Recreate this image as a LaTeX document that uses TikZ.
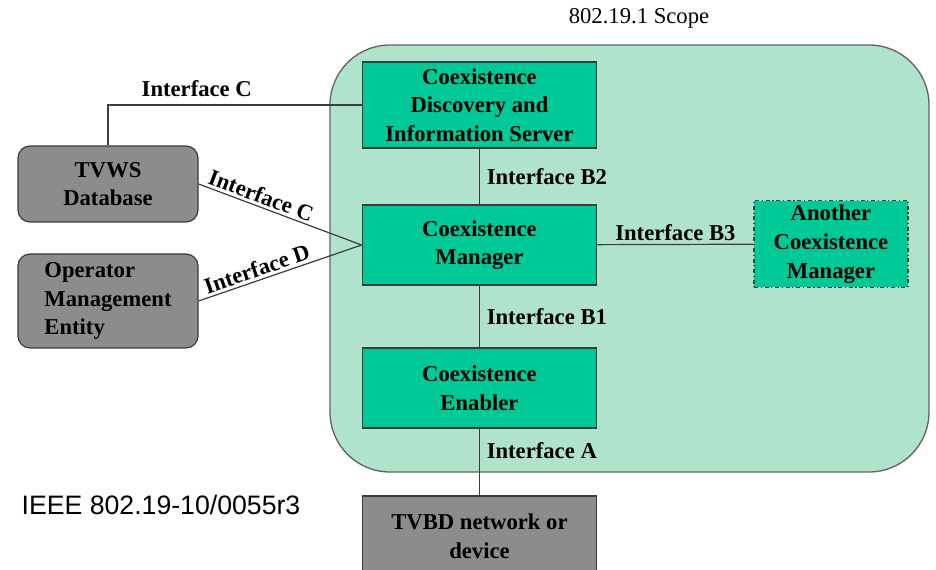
\documentclass[tikz,border=0pt]{standalone}
\usepackage{fontspec}
\setmainfont{Liberation Serif}
\newfontfamily\arialfont{Liberation Sans}
\usetikzlibrary{positioning}

\definecolor{scopegreen}{RGB}{176,227,203}
\definecolor{boxgreen}{RGB}{0,200,150}
\definecolor{boxgray}{RGB}{140,140,140}
\definecolor{edgegray}{RGB}{60,60,60}

\begin{document}
\begin{tikzpicture}[x=0.75pt, y=-0.75pt]
  \tikzstyle{entity}=[draw=edgegray, line width=0.9pt, fill=boxgreen, align=center, text=black,
    minimum width=176pt, font=\bfseries\fontsize{17}{21.5}\selectfont]
  \tikzstyle{outside}=[draw=edgegray, line width=0.9pt, fill=boxgray, rounded corners=9pt, text=black,
    minimum width=135pt, font=\bfseries\fontsize{17}{21.5}\selectfont]
  \tikzstyle{iface}=[font=\bfseries\fontsize{17}{21.5}\selectfont, text=black, inner sep=2pt]
  \useasboundingbox (0,0) rectangle (936,570);

  % 802.19.1 scope
  \draw[draw=edgegray!80, line width=1pt, fill=scopegreen, rounded corners=45pt]
    (330,45) rectangle (929,472);
  \node[font=\fontsize{17}{20}\selectfont] (L_scope) at (639,18) {802.19.1 Scope};

  \node[entity, minimum height=64.5pt] (CDIS) at (479.5,105)
    {Coexistence\\Discovery and\\Information Server};
  \node[entity, minimum height=60pt] (CM) at (479.5,245) {Coexistence\\Manager};
  \node[entity, minimum height=60pt] (CE) at (479.5,388) {Coexistence\\Enabler};
  \node[entity, dash dot, minimum width=115.5pt, minimum height=63pt] (ACM) at (831,244)
    {Another\\Coexistence\\Manager};
  \node[outside, align=center, rounded corners=0pt, minimum width=176pt, minimum height=60pt] (TVBD) at (479.5,536)
    {TVBD network or\\device};
  \node[outside, align=center, minimum height=57pt] (TVWS) at (108,184) {TVWS\\Database};
  \node[outside, align=left, minimum height=70.5pt] (OME) at (108,301)
    {Operator\\Management\\Entity};

  \draw[edgegray, line width=0.9pt] (TVWS.north) |- (CDIS.west)
    node[iface, pos=0.675, above=4pt] {Interface C};
  \draw[edgegray, line width=0.9pt] (TVWS.east) -- (CM.west)
    node[iface, pos=0.36, above, sloped] {Interface C};
  \draw[edgegray, line width=0.9pt] (OME.east) -- (CM.west)
    node[iface, pos=0.38, above, sloped] {Interface D};
  \draw[edgegray, line width=0.9pt] (CDIS) -- (CM)
    node[iface, midway, right=3pt] {Interface B2};
  \draw[edgegray, line width=0.9pt] (CM) -- (ACM)
    node[iface, midway, above] {Interface B3};
  \draw[edgegray, line width=0.9pt] (CM) -- (CE)
    node[iface, midway, right=3pt] {Interface B1};
  \draw[edgegray, line width=0.9pt] (CE) -- (TVBD)
    node[iface, pos=0.33, right=3pt] {Interface A};

  \node[font=\arialfont\fontsize{20}{24}\selectfont] (L_doc) at (161,505) {IEEE 802.19-10/0055r3};
\end{tikzpicture}
\end{document}
